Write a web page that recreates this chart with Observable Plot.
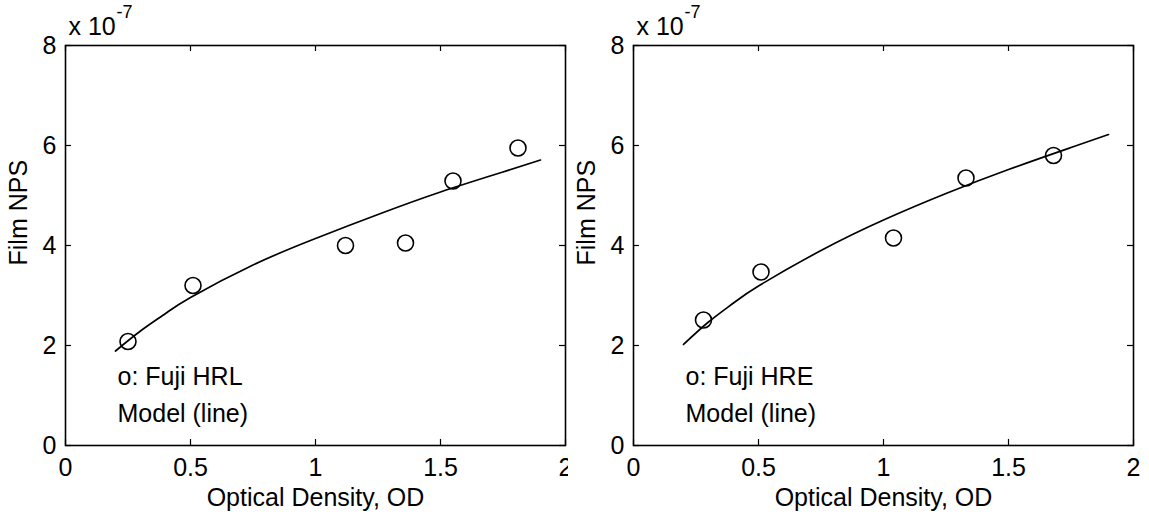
<!DOCTYPE html>
<html>
<head>
<meta charset="utf-8">
<script src="https://cdn.jsdelivr.net/npm/d3@7"></script>
<script src="https://cdn.jsdelivr.net/npm/@observablehq/plot@0.6"></script>
<style>
  html, body { margin: 0; padding: 0; background: #fff; }
  #chart { position: relative; width: 1149px; height: 521px; overflow: hidden; background: #fff; }
  #chart svg { position: absolute; top: 0; }
</style>
</head>
<body>
<div id="chart"></div>
<script>
// Axis ticks
const xTicks = [0, 0.5, 1, 1.5, 2];
const xTickLabels = ["0", "0.5", "1", "1.5", "2"];
const yTicks = [0, 2, 4, 6, 8];
const yTickLabels = ["0", "2", "4", "6", "8"];

// Measured film noise power spectrum (units of 1e-7) vs optical density
const hrlOD = [0.25, 0.51, 1.12, 1.36, 1.55, 1.81];
const hrlNPS = [2.08, 3.20, 4.00, 4.05, 5.29, 5.95];
const hreOD = [0.28, 0.51, 1.04, 1.33, 1.68];
const hreNPS = [2.51, 3.47, 4.15, 5.35, 5.80];

// Model curves (units of 1e-7)
const modelOD = [0.2, 0.3, 0.4, 0.5, 0.75, 1.0, 1.25, 1.5, 1.75, 1.9];
const hrlModel = [1.89, 2.29, 2.64, 2.96, 3.61, 4.14, 4.62, 5.07, 5.47, 5.71];
const hreModel = [2.02, 2.47, 2.85, 3.19, 3.90, 4.51, 5.04, 5.52, 5.96, 6.22];

const panels = [
  {od: hrlOD, nps: hrlNPS, model: hrlModel, film: "o: Fuji HRL", left: 0},
  {od: hreOD, nps: hreNPS, model: hreModel, film: "o: Fuji HRE", left: 568}
];

const FONT = "'Liberation Sans', Arial, Helvetica, sans-serif";
const FS = 25;
const TICK = 6;

function panel(p) {
  const pts = p.od.map((x, i) => ({x, y: p.nps[i]}));
  const line = modelOD.map((x, i) => ({x, y: p.model[i]}));
  const frameW = 500, frameH = 400;
  return Plot.plot({
    width: 575,
    height: 521,
    marginLeft: 65,
    marginRight: 10,
    marginTop: 45,
    marginBottom: 76,
    x: {domain: [0, 2], ticks: xTicks},
    y: {domain: [0, 8], ticks: yTicks},
    style: {fontFamily: FONT, fontSize: FS + "px", color: "#000", background: "#fff", overflow: "visible"},
    marks: [
      // tick labels
      Plot.axisX(xTicks, {tickSize: 0, tickPadding: 13, label: null, fontSize: FS, tickFormat: (d, i) => xTickLabels[i]}),
      Plot.axisY(yTicks, {tickSize: 0, tickPadding: 9, label: null, fontSize: FS, tickFormat: (d, i) => yTickLabels[i]}),
      // inward tick marks on all four sides
      Plot.tickX(xTicks, {x: d => d, insetTop: frameH - TICK, stroke: "#000", strokeWidth: 1.2}),
      Plot.tickX(xTicks, {x: d => d, insetBottom: frameH - TICK, stroke: "#000", strokeWidth: 1.2}),
      Plot.tickY(yTicks, {y: d => d, insetRight: frameW - TICK, stroke: "#000", strokeWidth: 1.2}),
      Plot.tickY(yTicks, {y: d => d, insetLeft: frameW - TICK, stroke: "#000", strokeWidth: 1.2}),
      Plot.frame({stroke: "#000", strokeWidth: 1.6}),
      // model and measurements
      Plot.line(line, {x: "x", y: "y", curve: "natural", stroke: "#000", strokeWidth: 1.7}),
      Plot.dot(pts, {x: "x", y: "y", r: 8, stroke: "#000", strokeWidth: 1.6, fill: "none"}),
      // annotations
      Plot.text([p.film], {frameAnchor: "bottom-left", textAnchor: "start", dx: 52, dy: -61, fontSize: FS}),
      Plot.text(["Model (line)"], {frameAnchor: "bottom-left", textAnchor: "start", dx: 52, dy: -24, fontSize: FS}),
      // axis labels
      Plot.text(["Optical Density, OD"], {frameAnchor: "bottom", dy: 60, fontSize: FS}),
      Plot.text(["Film NPS"], {frameAnchor: "left", rotate: -90, dx: -47, dy: 20, fontSize: FS}),
      // exponent multiplier
      Plot.text(["x 10"], {frameAnchor: "top-left", textAnchor: "start", dx: 3, dy: -28, fontSize: FS}),
      Plot.text(["-7"], {frameAnchor: "top-left", textAnchor: "start", dx: 51, dy: -40, fontSize: 18})
    ]
  });
}

const chart = document.getElementById("chart");
for (const p of panels) {
  const svg = panel(p);
  svg.style.left = p.left + "px";
  chart.appendChild(svg);
}
</script>
</body>
</html>
